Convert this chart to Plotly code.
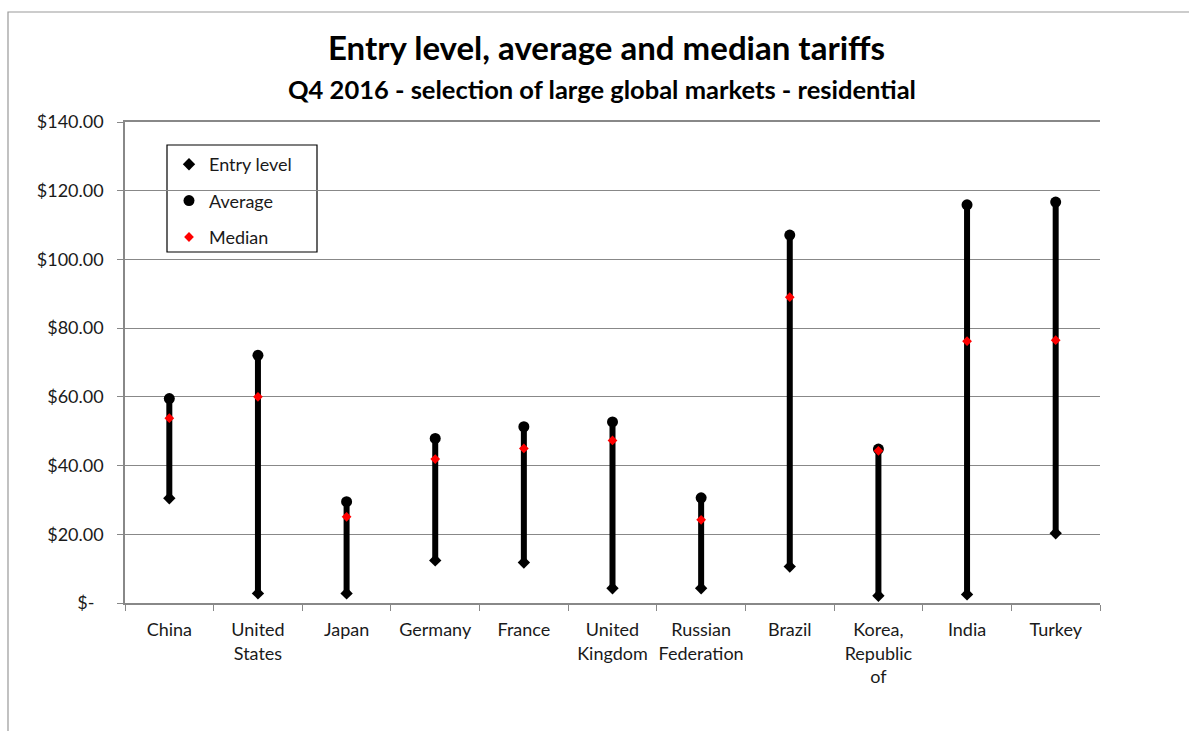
import plotly.graph_objects as go

categories = ["China", "United<br>States", "Japan", "Germany", "France", "United<br>Kingdom",
              "Russian<br>Federation", "Brazil", "Korea,<br>Republic<br>of", "India", "Turkey"]
entry_level = [30.5, 2.8, 2.8, 12.4, 11.8, 4.3, 4.3, 10.6, 2.1, 2.5, 20.3]
average = [59.5, 72.1, 29.5, 47.9, 51.3, 52.7, 30.6, 107.1, 44.8, 115.9, 116.7]
median = [53.8, 60.0, 25.1, 41.9, 45.0, 47.3, 24.2, 89.0, 44.3, 76.2, 76.5]
y_ticks = [0, 20, 40, 60, 80, 100, 120, 140]
y_ticktext = ["$-\u00a0\u00a0", "$20.00", "$40.00", "$60.00", "$80.00", "$100.00", "$120.00", "$140.00"]

FONT = "Lato"
TXT = "#1a1a1a"

# connecting bars entry -> average
bx, by = [], []
for c, e, a in zip(categories, entry_level, average):
    bx += [c, c, None]
    by += [e, a, None]

fig = go.Figure()
fig.add_trace(go.Scatter(x=bx, y=by, mode="lines", line=dict(color="black", width=6),
                         showlegend=False, hoverinfo="skip"))
fig.add_trace(go.Scatter(x=categories, y=entry_level, mode="markers", name="Entry level",
                         marker=dict(symbol="diamond", color="black", size=9.5), legendgroup="a"))
fig.add_trace(go.Scatter(x=categories, y=average, mode="markers", name="Average",
                         marker=dict(symbol="circle", color="black", size=11), legendgroup="b"))
fig.add_trace(go.Scatter(x=categories, y=median, mode="markers", name="Median",
                         marker=dict(symbol="diamond", color="#ff0000", size=7.5), legendgroup="c"))

L, R, T, B = 125, 89, 122, 128
W, H = 1189, 731
pw, ph = W - L - R, H - T - B

def px_x(p):
    return (p - L) / pw

def px_y(p):
    return (H - B - p) / ph

fig.update_layout(
    width=W, height=H,
    margin=dict(l=L, r=R, t=T, b=B),
    paper_bgcolor="white", plot_bgcolor="white",
    font=dict(family=FONT, size=18, color=TXT),
    showlegend=True,
    legend=dict(x=px_x(169), y=px_y(146), xanchor="left", yanchor="top",
                borderwidth=0, bgcolor="rgba(0,0,0,0)",
                font=dict(family=FONT, size=18, color=TXT),
                tracegroupgap=10, itemwidth=30),
    xaxis=dict(type="category", range=[-0.5, len(categories) - 0.5],
               tickson="boundaries", ticks="outside", ticklen=6, tickangle=0,
               tickcolor="#888888", showline=True, linecolor="#888888", linewidth=1.5,
               mirror=True, showgrid=False, ticklabelstandoff=10,
               tickfont=dict(family=FONT, size=18, color=TXT)),
    yaxis=dict(range=[0, 140], tickvals=y_ticks, ticktext=y_ticktext, ticks="outside",
               ticklen=6, tickcolor="#888888", showline=True, linecolor="#888888", linewidth=1.5,
               showgrid=True, gridcolor="#888888", gridwidth=1.2, zeroline=False,
               ticklabelstandoff=10,
               tickfont=dict(family=FONT, size=18, color=TXT)),
    annotations=[
        dict(text="<b>Entry level, average and median tariffs</b>", xref="paper", yref="paper",
             x=px_x(606), y=px_y(47), xanchor="center", yanchor="middle", showarrow=False,
             font=dict(family=FONT, size=33, color="black")),
        dict(text="<b>Q4 2016 - selection of large global markets - residential</b>", xref="paper",
             yref="paper", x=px_x(602), y=px_y(89), xanchor="center", yanchor="middle",
             showarrow=False, font=dict(family=FONT, size=25.5, color="black")),
    ],
    shapes=[
        dict(type="rect", xref="paper", yref="paper", x0=px_x(8), x1=px_x(1230),
             y0=px_y(760), y1=px_y(12), line=dict(color="#999999", width=1.2), layer="below"),
        dict(type="rect", xref="paper", yref="paper", x0=px_x(167), x1=px_x(317),
             y0=px_y(252), y1=px_y(145), line=dict(color="black", width=1.2),
             fillcolor="white", layer="between"),
    ],
)

fig.write_html("out.html")
